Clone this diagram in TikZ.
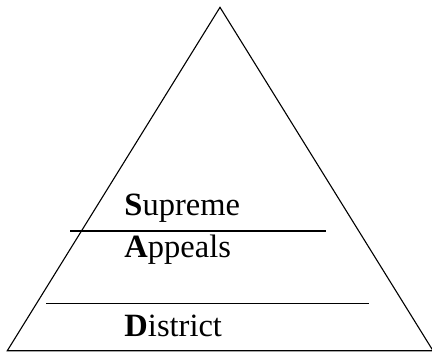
\documentclass[tikz,border=0pt]{standalone}
\usepackage{fontspec}
\setmainfont{Liberation Serif}
\begin{document}
\begin{tikzpicture}[x=1bp,y=-1bp,
  edge/.style={draw=black,line width=1.1bp,line join=miter},
  tier/.style={anchor=base west,inner sep=0pt,font=\fontsize{32.5bp}{36bp}\selectfont}]
\useasboundingbox (0,0) rectangle (432,354);
\coordinate (apex) at (220,7.3);
\coordinate (bl) at (7.3,350.7);
\coordinate (br) at (433,350.7);
\draw[edge] (bl) -- (apex) -- (br) -- cycle;
\coordinate (l1a) at (70,231);
\coordinate (l1b) at (325.7,231);
\coordinate (l2a) at (46,303.3);
\coordinate (l2b) at (369.3,303.3);
\draw[edge] (l1a) -- (l1b);
\draw[edge] (l2a) -- (l2b);
\node[tier] (sup) at (124.3,215) {\textbf{S}upreme};
\node[tier] (app) at (124.3,257.7) {\textbf{A}ppeals};
\node[tier] (dis) at (124.3,336.7) {\textbf{D}istrict};
\end{tikzpicture}
\end{document}
